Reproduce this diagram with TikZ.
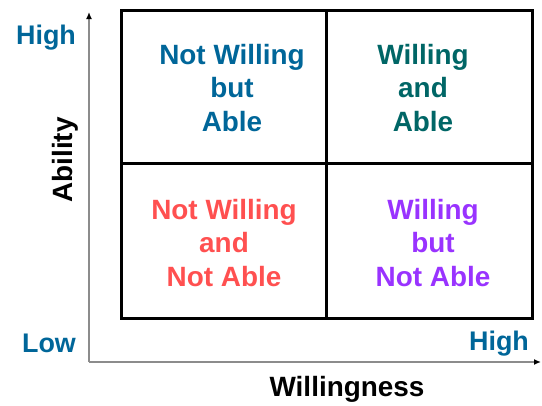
\documentclass[tikz,border=0pt]{standalone}
\usepackage{fontspec}
\setmainfont{Liberation Sans}
\usetikzlibrary{arrows.meta}
\definecolor{cblue}{RGB}{0,102,153}
\definecolor{cteal}{RGB}{0,102,102}
\definecolor{cred}{RGB}{255,80,80}
\definecolor{cpurple}{RGB}{153,51,255}
\begin{document}
\begin{tikzpicture}[x=1bp,y=-1bp,
  quad/.style={align=center,font=\fontsize{28}{33.5}\selectfont\bfseries},
  axlbl/.style={font=\fontsize{27}{30}\selectfont\bfseries,text=cblue},
  axtitle/.style={font=\fontsize{28}{30}\selectfont\bfseries,text=black},
  axis/.style={draw=gray!90,line width=1.6bp,-{Latex[length=7bp,width=6bp,color=black]}},
  grid/.style={draw=black,line width=3bp}]
\useasboundingbox (0,0) rectangle (542,405);
\coordinate (o) at (89,362);
\coordinate (ytop) at (89,12);
\coordinate (xend) at (541,362);
\draw[axis] (o) -- (ytop);
\draw[axis] (o) -- (xend);
\draw[grid] (121,10) rectangle (532,318);
\draw[grid] (326.5,10) -- (326.5,318);
\draw[grid] (121,163) -- (532,163);
\node[quad,text=cblue] (tl) at (232,88) {Not Willing\\but\\Able};
\node[quad,text=cteal] (tr) at (423,88) {Willing\\and\\Able};
\node[quad,text=cred] (bl) at (224,243) {Not Willing\\and\\Not Able};
\node[quad,text=cpurple] (br) at (433,243) {Willing\\but\\Not Able};
\node[axlbl] (hy) at (46,38) {High};
\node[axlbl] (lo) at (49,343) {Low};
\node[axlbl] (hx) at (499,344) {High};
\node[axtitle] (wx) at (347,389) {Willingness};
\node[axtitle,rotate=90] (ay) at (65,160) {Ability};
\end{tikzpicture}
\end{document}
